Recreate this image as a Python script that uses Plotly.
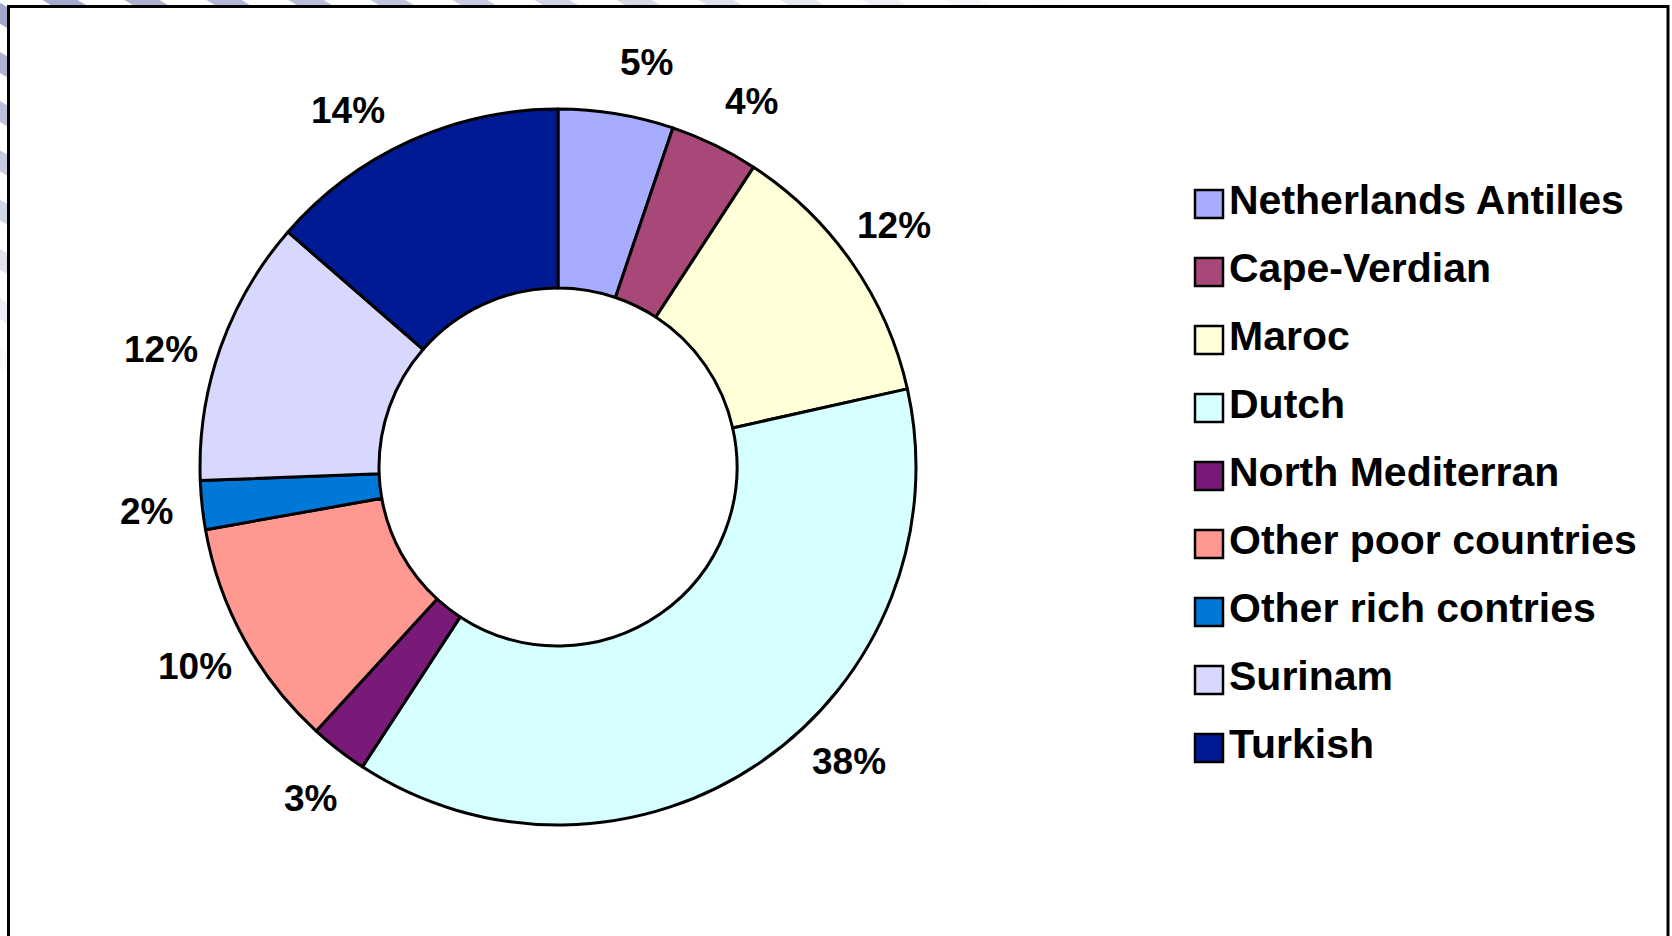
import math
import plotly.graph_objects as go

# ---------------- data ----------------
categories = ["Netherlands Antilles", "Cape-Verdian", "Maroc", "Dutch",
              "North Mediterran", "Other poor countries", "Other rich contries",
              "Surinam", "Turkish"]
shares = [5.2, 4.0, 12.3, 37.7, 2.6, 10.4, 2.2, 12.0, 13.6]

# ---------------- styles ----------------
colors = ["#A8ACFF", "#A84878", "#FFFFD8", "#D6FFFF", "#7A1A78",
          "#FF9890", "#0078D8", "#D8D8FF", "#001A94"]
label_nudge_deg = [3, 2, -1, -10, -1, 0, 0, -3, -6]   # small label angle tweaks

W, H = 1672, 936
CX, CY, R = 558, 467, 358          # pie centre / radius in px
LABEL_R = 414
FONT = "Liberation Sans, Arial, sans-serif"


def px(x):
    return x / W


def py(y):
    return 1 - y / H


fig = go.Figure()

fig.add_trace(go.Pie(
    labels=categories,
    values=shares,
    hole=0.5,
    sort=False,
    direction="clockwise",
    rotation=0,
    marker=dict(colors=colors, line=dict(color="black", width=3)),
    textinfo="none",
    hoverinfo="label+percent",
    showlegend=False,
    domain=dict(x=[px(CX - R), px(CX + R)], y=[py(CY + R), py(CY - R)]),
))

shapes = []
# background stripes (slide pattern) in the top-left margin
for k in range(-8, 13):
    c = 60 + 82 * k
    if c >= 0:
        op = max(0.0, 0.85 * (1 - c / 1050))
        xa, xb = c - 25, c + 25
    else:
        op = max(0.0, 0.85 * (1 - (-0.6 * c) / 380))
        xa, xb = -15, 25
    if op <= 0:
        continue
    shapes.append(dict(type="line", xref="paper", yref="paper", layer="below",
                       x0=px(xa), y0=py(0.6 * (xa - c)),
                       x1=px(xb), y1=py(0.6 * (xb - c)),
                       line=dict(color="#8E95C2", width=18), opacity=op))
# chart area frame
shapes.append(dict(type="rect", xref="paper", yref="paper", layer="below",
                   x0=px(8.5), x1=px(1668), y0=py(950), y1=py(6.5),
                   fillcolor="white", line=dict(color="black", width=3)))

annotations = []
# percentage labels
total = sum(shares)
cum = 0.0
for i, v in enumerate(shares):
    mid = (cum + v / 2) / total * 360 + label_nudge_deg[i]
    cum += v
    th = math.radians(mid)
    lx = CX + LABEL_R * math.sin(th)
    ly = CY - LABEL_R * math.cos(th)
    annotations.append(dict(x=px(lx), y=py(ly), xref="paper", yref="paper",
                            text=f"<b>{round(v / total * 100):.0f}%</b>", showarrow=False,
                            xanchor="center", yanchor="middle",
                            font=dict(family=FONT, size=37, color="black")))

# manual legend
for i, (name, col) in enumerate(zip(categories, colors)):
    yc = 204 + 68 * i
    shapes.append(dict(type="rect", xref="paper", yref="paper", layer="above",
                       x0=px(1195), x1=px(1223), y0=py(yc + 14), y1=py(yc - 14),
                       fillcolor=col, line=dict(color="black", width=2.5)))
    annotations.append(dict(x=px(1227), y=py(yc - 4), xref="paper", yref="paper",
                            text=f"<b>{name}</b>", showarrow=False,
                            xanchor="left", yanchor="middle",
                            font=dict(family=FONT, size=41, color="black")))

fig.update_layout(
    width=W, height=H,
    margin=dict(l=0, r=0, t=0, b=0),
    paper_bgcolor="white",
    plot_bgcolor="white",
    shapes=shapes,
    annotations=annotations,
    showlegend=False,
)

fig.write_html("out.html",
               config={"displayModeBar": False},
               post_script="document.body.style.margin='0';"
                           "document.body.style.overflow='hidden';")
